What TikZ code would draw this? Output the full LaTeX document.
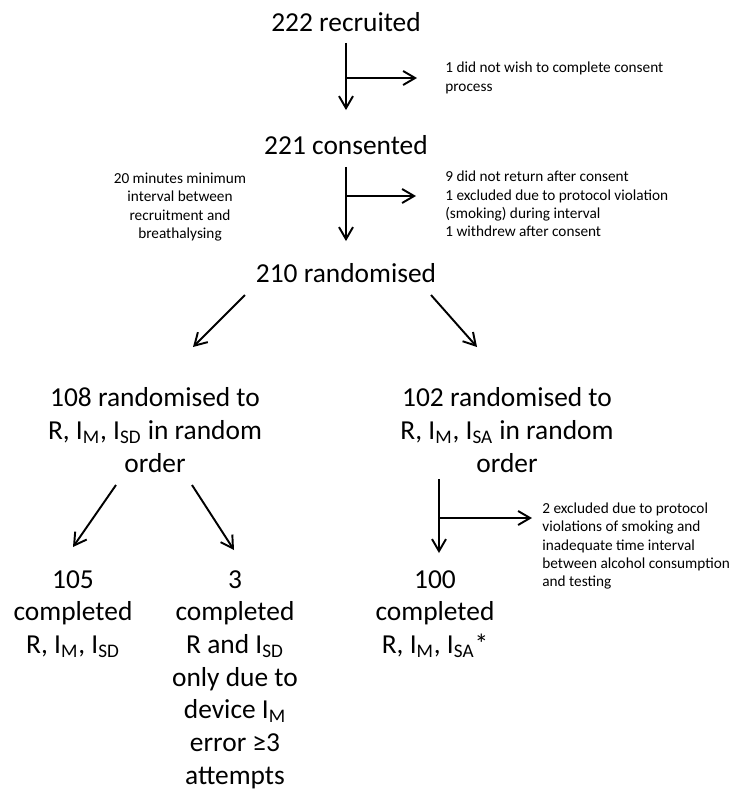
\documentclass[tikz,border=0pt]{standalone}
\usepackage{fontspec}
\setmainfont{Carlito}
\usetikzlibrary{arrows.meta,positioning}

\begin{document}
\begin{tikzpicture}
[x=0.02cm, y=-0.02cm,
% STYLES
>={Straight Barb[length=2.4mm,width=2.8mm]},
% The stage style is used for the counts at each step
stage/.style={inner sep=0pt, align=center, font=\fontsize{15.6}{18.6}\selectfont},
% The comment style is used for the notes beside the arrows
comment/.style={inner sep=0pt, align=left, font=\fontsize{8.7}{10.4}\selectfont},
flow/.style={line width=1.1pt}]

\useasboundingbox (0,0) rectangle (747,789);

% Draw stages
\node [stage] (recruited) at (346,22) {222 recruited};
\node [stage] (consented) at (346,145) {221 consented};
\node [stage] (randomised) at (346,273) {210 randomised};
\node [stage] (rand108) at (155,430) {108 randomised to\\R, I\textsubscript{M}, I\textsubscript{SD} in random\\order};
\node [stage] (rand102) at (507,430) {102 randomised to\\R, I\textsubscript{M}, I\textsubscript{SA} in random\\order};
\node [stage, anchor=north] (done105) at (73,570) {105\\completed\\R, I\textsubscript{M}, I\textsubscript{SD}};
\node [stage, anchor=north] (done3) at (235,570) {3\\completed\\R and I\textsubscript{SD}\\only due to\\device I\textsubscript{M}\\error ≥3\\attempts};
\node [stage, anchor=north] (done100) at (435,570) {100\\completed\\R, I\textsubscript{M}, I\textsubscript{SA}*};

%%%%%%%%%%%%%%%
% Comments

% Recruited
\node [comment, anchor=west] (excl1) at (445,78)
{1 did not wish to complete consent\\process};

% Consented
\node [comment, anchor=west] (excl2) at (445,204)
{9 did not return after consent\\
 1 excluded due to protocol violation\\
 (smoking) during interval\\
 1 withdrew after consent};

\node [comment, align=center] (interval) at (180,207)
{20 minutes minimum\\interval between\\recruitment and\\breathalysing};

% 102 arm
\node [comment, anchor=west] (excl3) at (542,546)
{2 excluded due to protocol\\
 violations of smoking and\\
 inadequate time interval\\
 between alcohol consumption\\
 and testing};

%%%%%%%%%%%%%%%
% Draw the links between stages
\path[->,flow]
(recruited.south) edge[shorten <=0.22cm, shorten >=0.5cm] (consented.north)
(consented.south) edge[shorten <=0.24cm, shorten >=0.44cm] (randomised.north);

\coordinate (b1) at (346,78);
\coordinate (b2) at (346,196);
\draw[->,flow,shorten >=0.56cm] (b1) -- (b1 -| excl1.west);
\draw[->,flow,shorten >=0.58cm] (b2) -- (b2 -| excl2.west);

\draw[->,flow] ([shift={(-101,22)}]randomised.center) -- ([shift={(38,-83)}]rand108.center);
\draw[->,flow] ([shift={(85,22)}]randomised.center) -- ([shift={(-30,-83)}]rand102.center);

\draw[->,flow] ([shift={(-39,55)}]rand108.center) -- ([shift={(0,-23)}]done105.north);
\draw[->,flow] ([shift={(37,55)}]rand108.center) -- ([shift={(-1,-20)}]done3.north);

\draw[->,flow] ([shift={(-68,49)}]rand102.center) -- ([shift={(4,-17)}]done100.north);
\coordinate (b3) at (439,518);
\draw[->,flow,shorten >=0.2cm] (b3) -- (b3 -| excl3.west);

\end{tikzpicture}
\end{document}
